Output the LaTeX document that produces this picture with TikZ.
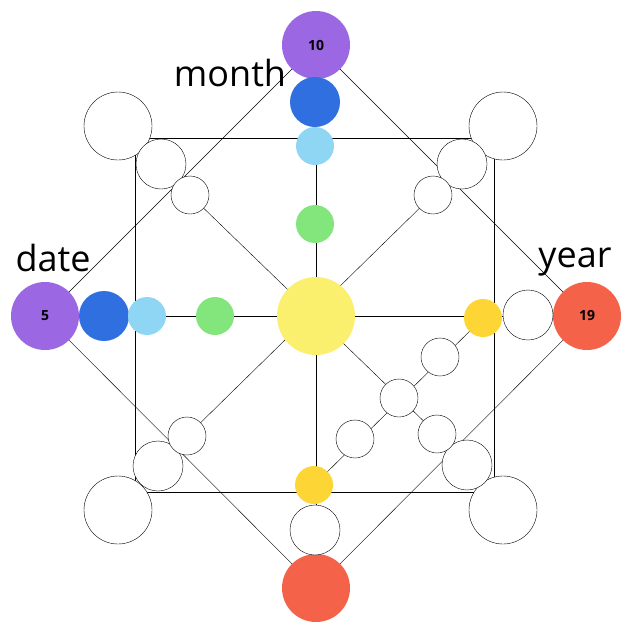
\documentclass[tikz,border=0pt]{standalone}
\usepackage{fontspec}
\setmainfont{Open Sans}
\usetikzlibrary{backgrounds}

\definecolor{cpurple}{HTML}{9B67E3}
\definecolor{cblue}{HTML}{2F6FE0}
\definecolor{clight}{HTML}{8FD6F5}
\definecolor{cgreen}{HTML}{82E67D}
\definecolor{cyellow}{HTML}{FBF06E}
\definecolor{cgold}{HTML}{FDD535}
\definecolor{cred}{HTML}{F5624A}

\begin{document}
\begin{tikzpicture}[
        x=1pt, y=-1pt,
        line join=round,
        dot/.style = {circle, inner sep=0pt, minimum size=#1},
        big/.style = {dot=68pt, font=\bfseries\fontsize{14}{14}\selectfont},
        mid/.style = {dot=50pt},
        small/.style = {dot=38pt},
        ring/.style = {draw=black, fill=white, thin},
        lbl/.style = {font=\fontsize{36}{36}\selectfont, inner sep=0pt}
    ]

    \useasboundingbox (0,0) rectangle (631,635);

    % centre
    \node[dot=78pt, fill=cyellow] (c) at (316,316) {};

    % top
    \node[big, fill=cpurple] (t1) at (316,45) {10};
    \node[mid, fill=cblue] (t2) at (315,102) {};
    \node[small, fill=clight] (t3) at (315,146) {};
    \node[small, fill=cgreen] (t4) at (315,224) {};

    % left
    \node[big, fill=cpurple] (l1) at (45,316) {5};
    \node[mid, fill=cblue] (l2) at (104,316) {};
    \node[small, fill=clight] (l3) at (147,316) {};
    \node[small, fill=cgreen] (l4) at (215,316) {};

    % right
    \node[big, fill=cred] (r1) at (587,316) {19};
    \node[mid, ring] (r2) at (528,315) {};
    \node[small, fill=cgold] (r3) at (483,318) {};

    % bottom
    \node[big, fill=cred] (b1) at (316,588) {};
    \node[mid, ring] (b2) at (315,530) {};
    \node[small, fill=cgold] (b3) at (314,485) {};

    % corners
    \node[big, ring] (tl1) at (118,126) {};
    \node[mid, ring] (tl2) at (161,164) {};
    \node[small, ring] (tl3) at (190,195) {};
    \node[big, ring] (tr1) at (503,126) {};
    \node[mid, ring] (tr2) at (462,164) {};
    \node[small, ring] (tr3) at (433,195) {};
    \node[big, ring] (bl1) at (118,510) {};
    \node[mid, ring] (bl2) at (158,466) {};
    \node[small, ring] (bl3) at (187,436) {};
    \node[big, ring] (br1) at (503,510) {};
    \node[mid, ring] (br2) at (467,465) {};
    \node[small, ring] (br3) at (437,434) {};

    % inner diagonal
    \node[small, ring] (d1) at (440,357) {};
    \node[small, ring] (d2) at (399,398) {};
    \node[small, ring] (d3) at (355,439) {};

    \node[lbl] (month) at (230,73) {month};
    \node[lbl] (date) at (53,258) {date};
    \node[lbl] (year) at (575,262) {year};

    \begin{pgfonlayer}{background}
        \draw (135,138) rectangle (494,492);
        \draw (t1.center) -- (l1.center) -- (b1.center) -- (r1.center) -- cycle;
        \draw (t1.center) -- (b1.center);
        \draw (l1.center) -- (r1.center);
        \draw (tl3.center) -- (br3.center);
        \draw (tr3.center) -- (bl3.center);
        \draw (r3.center) -- (b3.center);
    \end{pgfonlayer}

\end{tikzpicture}
\end{document}
